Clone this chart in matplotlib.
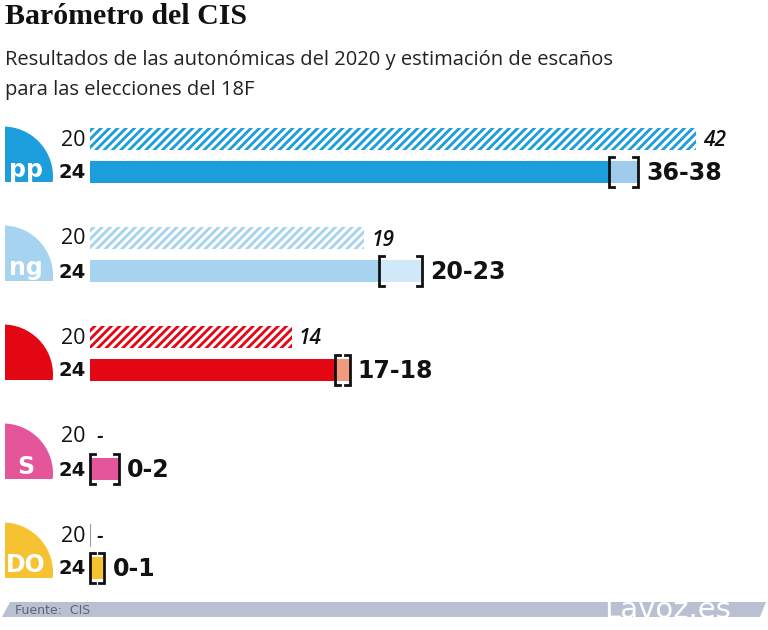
import numpy as np
import matplotlib.pyplot as plt
from matplotlib.patches import Circle, Rectangle, Polygon

plt.rcParams['hatch.linewidth'] = 2.2

# data
parties = ['PP', 'BNG', 'PSdeG', 'Sumar', 'DO']
seats_2020 = [42, 19, 14, 0, 0]
labels_2020 = ['42', '19', '14', '-', '-']
low_2024 = [36, 20, 17, 0, 0]
high_2024 = [38, 23, 18, 2, 1]
labels_2024 = ['36-38', '20-23', '17-18', '0-2', '0-1']
colors = ['#1b9edb', '#a6d3f0', '#e30613', '#e5559a', '#f7c232']
range_colors = ['#9fcbec', '#d0e8f8', '#f29a80', '#e5559a', '#f7c232']
logo_text = ['pp', 'ng', '', 'S', 'DO']

W, H = 768, 630
PX = 14.43  # pixels per seat
fig = plt.figure(figsize=(W / 100, H / 100), dpi=100)

# decoration layer in pixel units
deco = fig.add_axes([0, 0, 1, 1])
deco.set_xlim(0, W)
deco.set_ylim(H, 0)
deco.axis('off')

ax = fig.add_axes([90 / W, 0, (W - 90) / W, 1])
ax.set_xlim(0, (W - 90) / PX)
ax.set_ylim(H, 0)
ax.axis('off')

p = 1 / PX  # one pixel in seat units
y20 = 139 + 99 * np.arange(len(parties))
y24 = y20 + 33
bh = 22

ax.barh(y20, seats_2020, height=bh, color=colors, edgecolor='white',
        hatch='////', linewidth=0)
ax.barh(y24, low_2024, height=bh, color=colors, linewidth=0)
ax.barh(y24, np.array(high_2024) - np.array(low_2024), left=low_2024,
        height=bh, color=range_colors, linewidth=0)

for i in range(len(parties)):
    # brackets
    lo, hi = low_2024[i], high_2024[i]
    t, b = y24[i] - 15, y24[i] + 15
    s = 5 * p
    ax.plot([lo + s, lo, lo, lo + s], [t, t, b, b], color='#111111', lw=2,
            solid_joinstyle='miter', clip_on=False)
    ax.plot([hi - s, hi, hi, hi - s], [t, t, b, b], color='#111111', lw=2,
            solid_joinstyle='miter', clip_on=False)
    # values
    ax.text(seats_2020[i] + 7 * p, y20[i] + 2, labels_2020[i], ha='left',
            va='center', fontsize=15, style='italic', fontweight='semibold',
            family='Open Sans', color='#111111')
    ax.text(hi + 8 * p, y24[i] + 1, labels_2024[i], ha='left', va='center',
            fontsize=17, fontweight='bold', color='#111111')
    # row labels
    ax.text(-4 * p, y20[i] + 1, '20', ha='right', va='center', fontsize=15.5,
            family='Open Sans', color='#111111')
    ax.text(-4 * p, y24[i] + 1, '24', ha='right', va='center', fontsize=14,
            fontweight='bold', color='#111111')

# thin zero line for the last party
ax.plot([0, 0], [y20[-1] - 11, y20[-1] + 11], color='#999999', lw=0.8)

# party logos
for i in range(len(parties)):
    yc = (y20[i] + y24[i]) / 2
    clip = Rectangle((5, yc - 40), 60, 66, transform=deco.transData)
    c = Circle((3, yc + 21), 50, color=colors[i], lw=0)
    deco.add_patch(c)
    c.set_clip_path(clip)
    if logo_text[i]:
        deco.text(26, yc + 14, logo_text[i], color='white', fontsize=17,
                  fontweight='bold', ha='center', va='center',
                  clip_path=clip, clip_on=True)

# titles
fig.text(5 / W, 1 - 3 / H, 'Barómetro del CIS', ha='left', va='top',
         fontsize=21.5, family='Liberation Serif', fontweight='bold',
         color='#111111')
fig.text(5 / W, 1 - 50 / H, 'Resultados de las autonómicas del 2020 y estimación de escaños',
         ha='left', va='top', fontsize=14.5, family='Open Sans', color='#222222')
fig.text(5 / W, 1 - 80 / H, 'para las elecciones del 18F', ha='left', va='top',
         fontsize=14.5, family='Open Sans', color='#222222')

# footer
deco.add_patch(Polygon([(2, 617), (10, 602), (766, 602), (760, 617)],
                       closed=True, color='#b8c0d1', lw=0))
deco.text(15, 610, 'Fuente:  CIS', ha='left', va='center', fontsize=9,
          color='#5f6575')
deco.text(604, 618, 'Lavoz.es', ha='left', va='baseline', fontsize=21,
          color='white')

fig.savefig('out.png', dpi=100)
